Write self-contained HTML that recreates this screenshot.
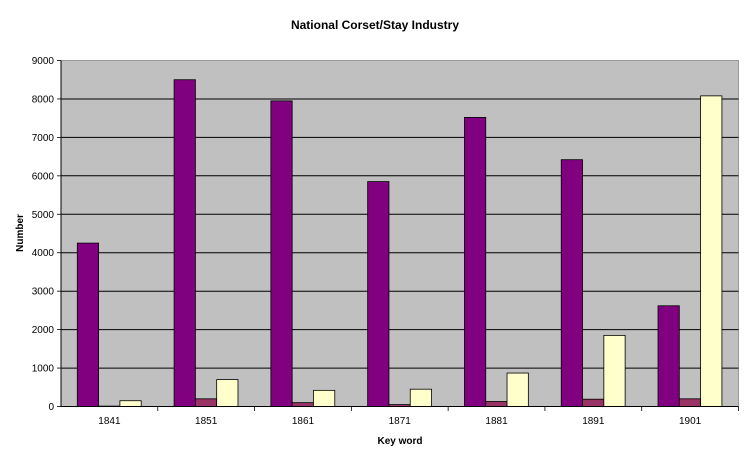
<!DOCTYPE html>
<html><head><meta charset="utf-8"><style>body{margin:0;background:#fff}</style></head><body>
<svg width="750" height="460" xmlns="http://www.w3.org/2000/svg" font-family="Liberation Sans, Arial, sans-serif">
<rect width="750" height="460" fill="#fff"/>
<text x="375" y="29" text-anchor="middle" font-size="12" font-weight="bold">National Corset/Stay Industry</text>
<rect x="61" y="60.5" width="677.5" height="346" fill="#c0c0c0" stroke="#999" stroke-width="1"/>
<g stroke="#000" stroke-width="1">
<line x1="61" y1="99" x2="738.5" y2="99"/><line x1="61" y1="137.4" x2="738.5" y2="137.4"/>
<line x1="61" y1="175.8" x2="738.5" y2="175.8"/><line x1="61" y1="214.3" x2="738.5" y2="214.3"/>
<line x1="61" y1="252.7" x2="738.5" y2="252.7"/><line x1="61" y1="291.2" x2="738.5" y2="291.2"/>
<line x1="61" y1="329.6" x2="738.5" y2="329.6"/><line x1="61" y1="368.1" x2="738.5" y2="368.1"/>
</g>
<g id="bars" stroke="#000" stroke-width="0.8"></g>
<g stroke="#000" stroke-width="1">
<line x1="61" y1="60.5" x2="61" y2="406.5"/><line x1="61" y1="406.5" x2="738.5" y2="406.5"/>
</g>
<g font-size="10" text-anchor="end" id="yl"></g>
<g font-size="10" text-anchor="middle" id="xl"></g>
<text x="400" y="444" text-anchor="middle" font-size="10" font-weight="bold">Key word</text>
<text transform="translate(23,233) rotate(-90)" text-anchor="middle" font-size="10" font-weight="bold">Number</text>
<script>
var ns="http://www.w3.org/2000/svg";
var d=[[4250,10,150],[8500,200,700],[7950,100,420],[5850,50,450],[7520,130,870],[6420,190,1850],[2620,200,8080]];
var yrs=[1841,1851,1861,1871,1881,1891,1901],cols=["#800080","#993366","#ffffcc"];
var cw=677.5/7,b=document.getElementById("bars"),yl=document.getElementById("yl"),xl=document.getElementById("xl");
function el(t,a,p,txt){var e=document.createElementNS(ns,t);for(var k in a)e.setAttribute(k,a[k]);if(txt!=null)e.textContent=txt;p.appendChild(e);return e;}
d.forEach(function(g,i){var x0=61+i*cw+16.3;g.forEach(function(v,j){var h=v*346/9000;el("rect",{x:x0+j*21.3,y:406.5-h,width:21.3,height:h,fill:cols[j]},b);});
el("text",{x:61+(i+0.5)*cw,y:424},xl,yrs[i]);
el("line",{x1:61+(i+1)*cw,y1:406.5,x2:61+(i+1)*cw,y2:411,stroke:"#000"},b);});
for(var k=0;k<=9;k++){var y=406.5-k*346/9;el("text",{x:54,y:y+3.5},yl,k*1000);el("line",{x1:57,y1:y,x2:61,y2:y,stroke:"#000"},b);}
</script>
</svg>
</body></html>
